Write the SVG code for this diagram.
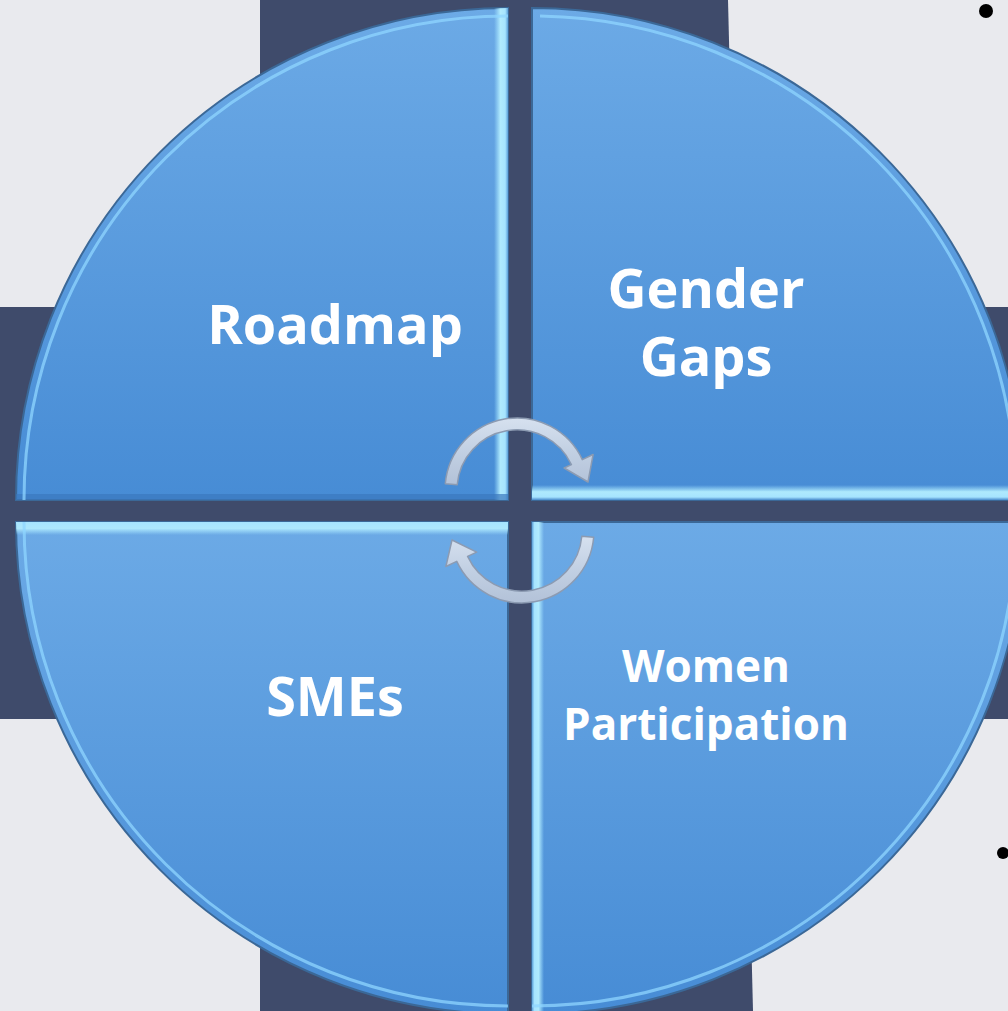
<svg xmlns="http://www.w3.org/2000/svg" width="1008" height="1011" viewBox="0 0 1008 1011">
<defs>
<style>
.q{fill:url(#qg);stroke:#3b6897;stroke-width:2}
.hl{fill:none;stroke:#8fd6ff;stroke-width:3;opacity:.75}
.lbl{font-family:"Open Sans","Liberation Sans",sans-serif;font-weight:700;fill:#ffffff;text-anchor:middle}
.arr{fill:url(#ag);stroke:#8c9bb2;stroke-width:1.5;stroke-linejoin:round}
.navy{fill:#3f4b6b}
</style>
<linearGradient id="qg" x1="0" y1="0" x2="0" y2="1">
<stop offset="0" stop-color="#6caae6"/><stop offset="1" stop-color="#478cd5"/>
</linearGradient>
<linearGradient id="hR" x1="0" y1="0" x2="1" y2="0">
<stop offset="0" stop-color="#a8e8ff" stop-opacity="0"/><stop offset="0.45" stop-color="#b4eeff" stop-opacity="0.95"/><stop offset="0.8" stop-color="#a6e4ff"/><stop offset="1" stop-color="#5b9ed8"/>
</linearGradient>
<linearGradient id="hL" x1="0" y1="0" x2="1" y2="0">
<stop offset="0" stop-color="#5b9ed8"/><stop offset="0.2" stop-color="#a6e4ff"/><stop offset="0.55" stop-color="#b4eeff" stop-opacity="0.95"/><stop offset="1" stop-color="#a8e8ff" stop-opacity="0"/>
</linearGradient>
<linearGradient id="hB" x1="0" y1="0" x2="0" y2="1">
<stop offset="0" stop-color="#a8e8ff" stop-opacity="0"/><stop offset="0.45" stop-color="#b4eeff" stop-opacity="0.95"/><stop offset="0.8" stop-color="#a6e4ff"/><stop offset="1" stop-color="#4a8bcd"/>
</linearGradient>
<linearGradient id="hT" x1="0" y1="0" x2="0" y2="1">
<stop offset="0" stop-color="#a6e4ff"/><stop offset="0.5" stop-color="#b4eeff" stop-opacity="0.9"/><stop offset="1" stop-color="#a8e8ff" stop-opacity="0"/>
</linearGradient>
<linearGradient id="ag" x1="0" y1="0" x2="0" y2="1">
<stop offset="0" stop-color="#d6e1ef"/><stop offset="0.5" stop-color="#c2d0e3"/><stop offset="1" stop-color="#b3c2d8"/>
</linearGradient>
<clipPath id="cTL"><path d="M 508 500 L 16 500 A 492 492 0 0 1 508 8 Z"/></clipPath>
<clipPath id="cTR"><path d="M 532 500 L 532 8 A 492 492 0 0 1 1024 500 Z"/></clipPath>
<clipPath id="cBL"><path d="M 508 522 L 508 1014 A 492 492 0 0 1 16 522 Z"/></clipPath>
<clipPath id="cBR"><path d="M 532 522 L 1024 522 A 492 492 0 0 1 532 1014 Z"/></clipPath>
</defs>
<rect x="0" y="0" width="1008" height="1011" fill="#e9eaee"/>
<g id="backdrop">
<polygon class="navy" points="260,0 728,0 753,1011 260,1011"/>
<rect class="navy" x="0" y="307" width="1008" height="412"/>
</g>
<g id="roadmap">
<path class="q" d="M 508 500 L 16 500 A 492 492 0 0 1 508 8 Z"/>
<g clip-path="url(#cTL)">
<rect x="494" y="8" width="14" height="492" fill="url(#hR)"/>
<rect x="16" y="494" width="492" height="6" fill="#3a78bd" opacity="0.7"/>
<path class="hl" d="M 24 500 A 484 484 0 0 1 508 16"/>
</g>
<text class="lbl" x="335" y="344" font-size="54">Roadmap</text>
</g>
<g id="gender-gaps">
<path class="q" d="M 532 500 L 532 8 A 492 492 0 0 1 1024 500 Z"/>
<g clip-path="url(#cTR)">
<rect x="532" y="485" width="492" height="15" fill="url(#hB)"/>
<path class="hl" d="M 540 16 A 484 484 0 0 1 1016 500"/>
</g>
<text class="lbl" x="706" y="308" font-size="54">Gender</text>
<text class="lbl" x="706" y="376" font-size="54">Gaps</text>
</g>
<g id="smes">
<path class="q" d="M 508 522 L 508 1014 A 492 492 0 0 1 16 522 Z"/>
<g clip-path="url(#cBL)">
<rect x="16" y="522" width="492" height="13" fill="url(#hT)"/>
<path class="hl" d="M 508 1006 A 484 484 0 0 1 24 522"/>
</g>
<text class="lbl" x="335" y="716" font-size="54">SMEs</text>
</g>
<g id="women-participation">
<path class="q" d="M 532 522 L 1024 522 A 492 492 0 0 1 532 1014 Z"/>
<g clip-path="url(#cBR)">
<rect x="532" y="522" width="12" height="492" fill="url(#hL)"/>
<path class="hl" d="M 1016 522 A 484 484 0 0 1 532 1006"/>
</g>
<text class="lbl" x="706" y="682" font-size="44">Women</text>
<text class="lbl" x="706" y="740" font-size="44">Participation</text>
</g>
<g id="connectors">
<path class="arr" d="M 445.3 483.7 A 72 72 0 0 1 582.3 459.6 L 593.1 454.5 L 588 482 L 564.1 468 L 571.4 464.6 A 60 60 0 0 0 457.2 484.8 Z"/>
<path class="arr" d="M 593.7 537.3 A 72 72 0 0 1 456.75 561.4 L 445.9 566.5 L 452 540 L 476.7 552.1 L 467.6 556.4 A 60 60 0 0 0 581.8 536.2 Z"/>
</g>
<g id="bullets">
<circle cx="986" cy="11" r="7" fill="#000"/>
<circle cx="1003" cy="853" r="6" fill="#000"/>
</g>
</svg>
